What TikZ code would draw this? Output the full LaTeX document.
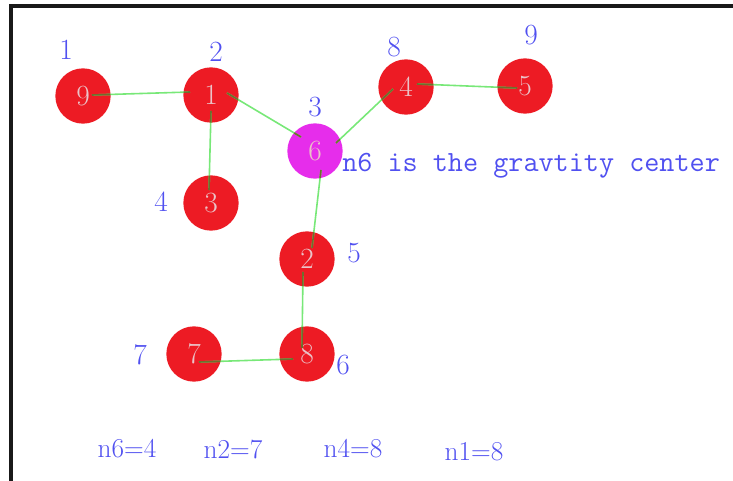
\documentclass[tikz,border=0pt]{standalone}
\usepackage{fontspec}
\definecolor{nodered}{RGB}{237,27,36}
\definecolor{centermag}{RGB}{230,45,235}
\definecolor{labelblue}{RGB}{80,80,240}
\definecolor{digitpink}{RGB}{235,195,200}
\definecolor{edgegreen}{RGB}{120,232,120}
\definecolor{edgeolive}{RGB}{110,110,45}
\definecolor{frameblack}{RGB}{25,25,25}
\newcommand\grapheedges[1]{%
  \draw[#1] (p91) -- (p19) (p13) -- (p31) (p16) -- (p61) (p64) -- (p46)
            (p45) -- (p54) (p62) -- (p26) (p28) -- (p82) (p78) -- (p87);}
\begin{document}
\begin{tikzpicture}[x=0.75pt,y=-0.75pt,
  vtx/.style={circle,fill=nodered,minimum size=41.5pt,inner sep=0pt,text=digitpink,font=\fontsize{22}{22}\selectfont},
  ctr/.style={vtx,fill=centermag},
  lbl/.style={text=labelblue,inner sep=0pt,font=\fontsize{22}{22}\selectfont},
  sumlbl/.style={lbl,font=\fontsize{20.5}{20.5}\selectfont},
  edge/.style={draw=edgegreen,line width=1.2pt},
  inedge/.style={draw=edgeolive,line width=1.2pt}]
\useasboundingbox (0,0) rectangle (733,481);
% frame
\coordinate (tr) at (733,6);
\coordinate (tl) at (11,6);
\coordinate (bl) at (11,481);
\draw[line width=2.8pt,frameblack] (tr) -- (tl) -- (bl);
% vertices
\node[vtx] (n9) at (83,96) {9};
\node[vtx] (n1) at (211,95) {1};
\node[vtx] (n3) at (211,203) {3};
\node[ctr] (n6) at (315,151) {6};
\node[vtx] (n4) at (406,87) {4};
\node[vtx] (n5) at (525,86) {5};
\node[vtx] (n2) at (307,259) {2};
\node[vtx] (n7) at (194,354) {7};
\node[vtx] (n8) at (307,354) {8};
% edge end points
\coordinate (p91) at (92,95);  \coordinate (p19) at (190,92);
\coordinate (p13) at (211,111); \coordinate (p31) at (209,190);
\coordinate (p16) at (227,93); \coordinate (p61) at (301,137);
\coordinate (p64) at (336,143); \coordinate (p46) at (393,89);
\coordinate (p45) at (417,84); \coordinate (p54) at (517,88);
\coordinate (p62) at (321,170); \coordinate (p26) at (312,248);
\coordinate (p28) at (303,272); \coordinate (p82) at (302,348);
\coordinate (p78) at (199,362); \coordinate (p87) at (293,359);
\grapheedges{edge}
\begin{scope}
  \clip (n9.center) circle[radius=20.7pt] (n1.center) circle[radius=20.7pt]
        (n3.center) circle[radius=20.7pt] (n6.center) circle[radius=20.7pt]
        (n4.center) circle[radius=20.7pt] (n5.center) circle[radius=20.7pt]
        (n2.center) circle[radius=20.7pt] (n7.center) circle[radius=20.7pt]
        (n8.center) circle[radius=20.7pt];
  \grapheedges{inedge}
\end{scope}
% order labels
\node[lbl] (l1) at (66,50) {1};
\node[lbl] (l2) at (216,52) {2};
\node[lbl] (l4) at (161,202) {4};
\node[lbl] (l3) at (315,107) {3};
\node[lbl] (l8) at (394,47) {8};
\node[lbl] (l9) at (531,35) {9};
\node[lbl] (l5) at (354,253) {5};
\node[lbl] (l6) at (343,365) {6};
\node[lbl] (l7) at (140,355) {7};
% caption
\node[lbl,anchor=base west,font=\ttfamily\fontsize{22}{22}\selectfont] (cap) at (342,172) {n6 is the gravtity center};
% sums
\node[sumlbl] (s1) at (127,449) {n6=4};
\node[sumlbl] (s2) at (233,449) {n2=7};
\node[sumlbl] (s3) at (353,449) {n4=8};
\node[sumlbl] (s4) at (474,452) {n1=8};
\end{tikzpicture}
\end{document}
